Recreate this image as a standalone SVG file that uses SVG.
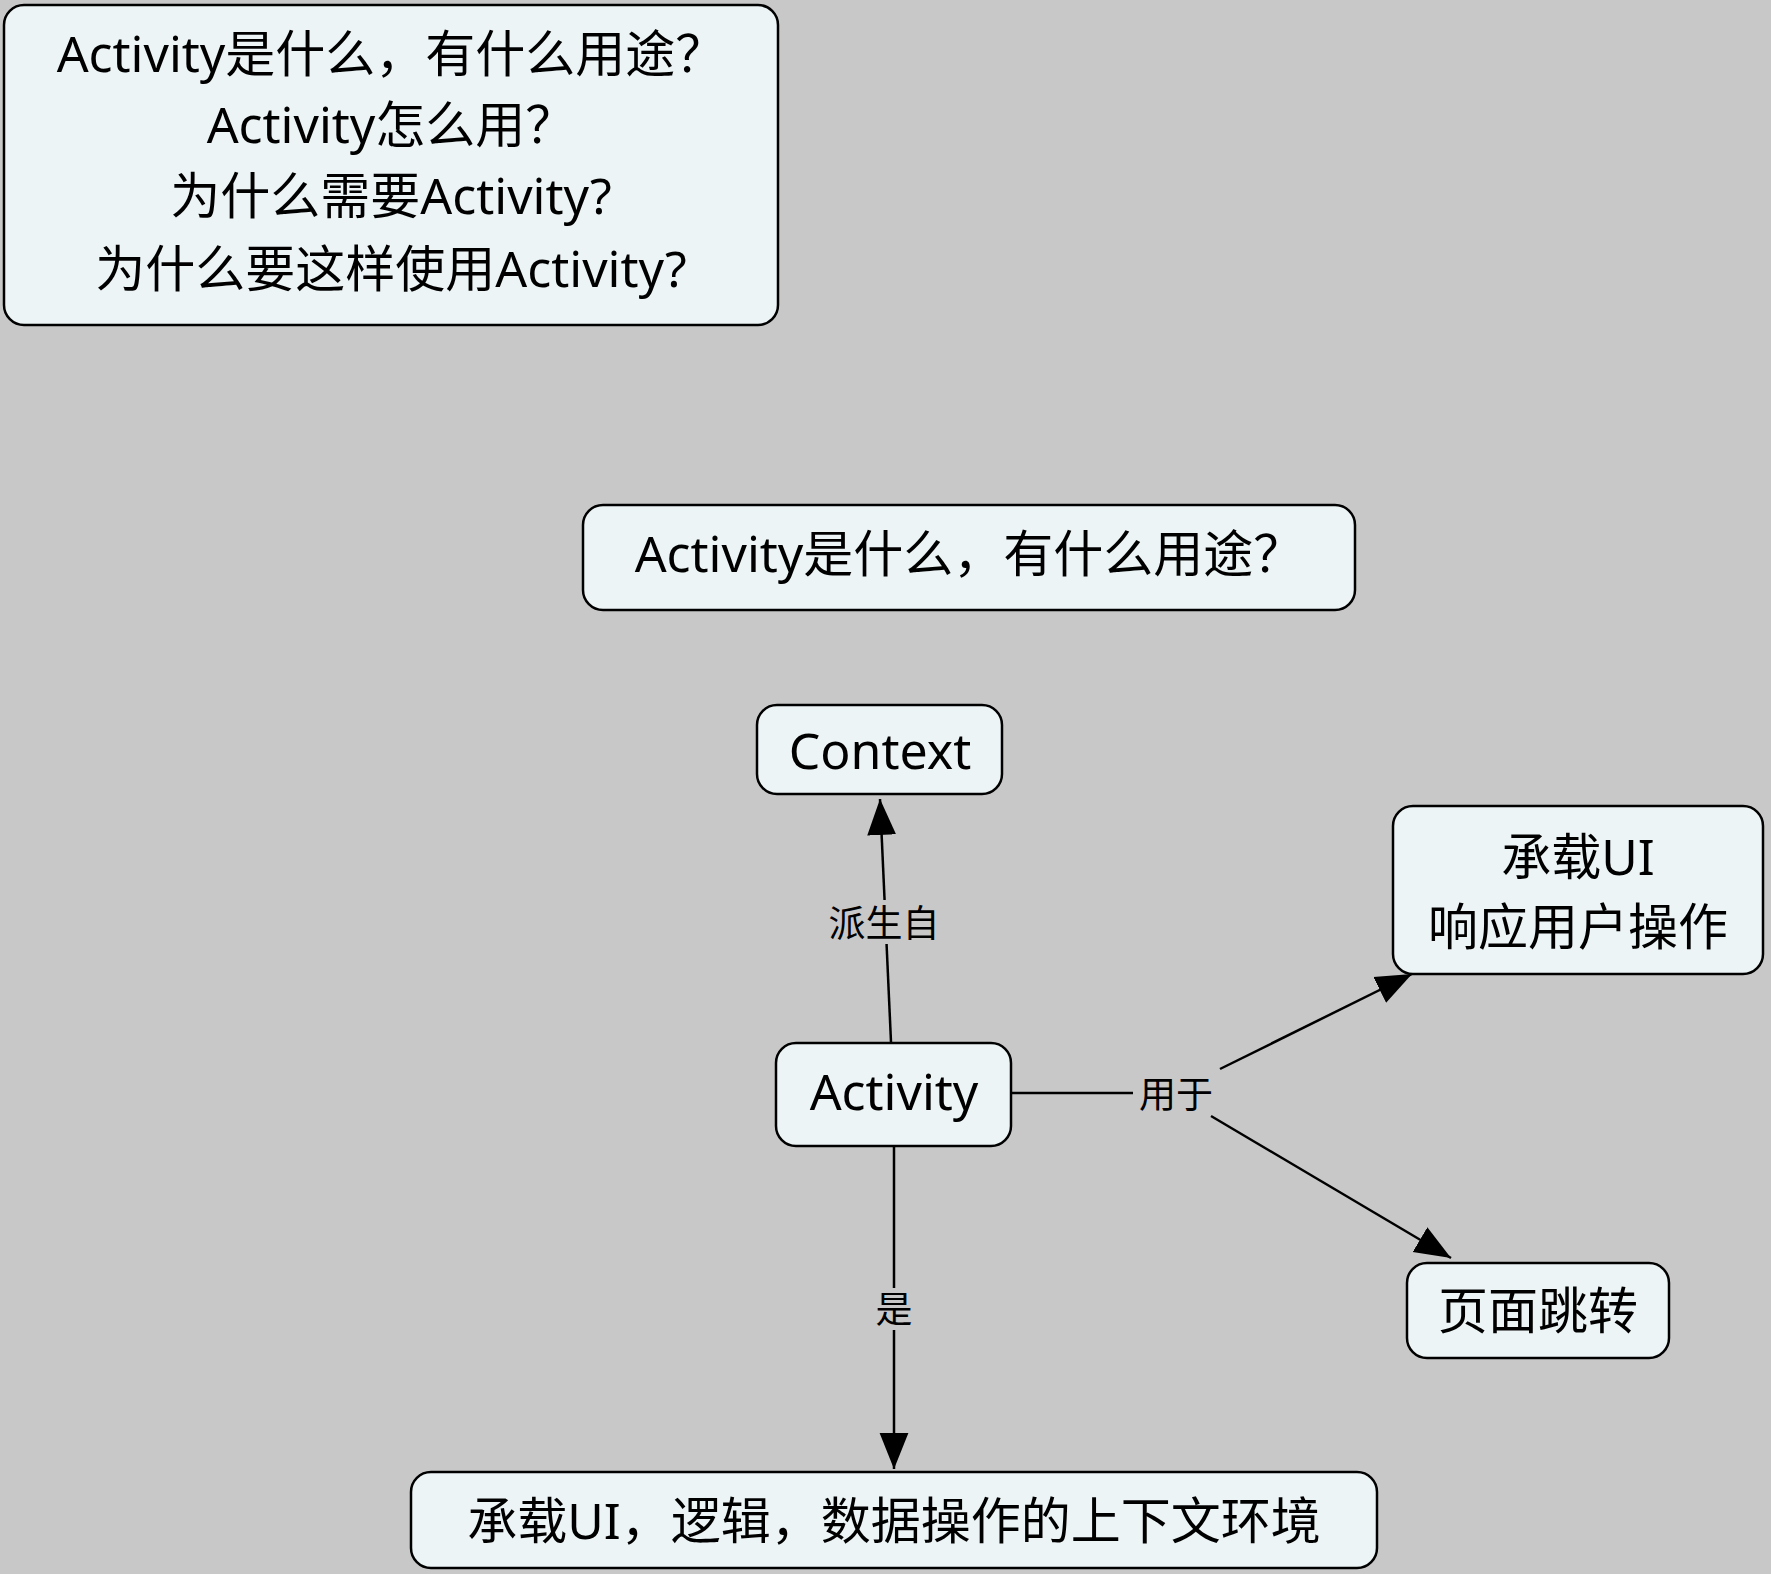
<svg xmlns="http://www.w3.org/2000/svg" width="1771" height="1574" viewBox="0 0 1771 1574">
<style>
.n{fill:#ecf4f6;stroke:#000;stroke-width:2.5}
.t{font-family:"Noto Sans","Noto Sans CJK SC",sans-serif;font-size:50px;fill:#000;text-anchor:middle;dominant-baseline:central}
.l{font-family:"Noto Sans","Noto Sans CJK SC",sans-serif;font-size:37px;fill:#000;text-anchor:middle;dominant-baseline:central}
.c{stroke:#000;stroke-width:2.5;fill:none}
</style>
<defs><marker id="a" viewBox="0 0 10 10" refX="10" refY="5" markerWidth="12" markerHeight="12" markerUnits="userSpaceOnUse" orient="auto"><path d="M0,0L10,5L0,10z" fill="#000"/></marker>
<marker id="b" viewBox="0 0 10 10" refX="10" refY="5" markerWidth="36" markerHeight="36" markerUnits="userSpaceOnUse" orient="auto"><path d="M0,1L10,5L0,9z" fill="#000"/></marker></defs>
<rect width="1771" height="1574" fill="#c8c8c8"/>
<g id="connectors">
<line class="c" x1="891" y1="1042" x2="880" y2="799" marker-end="url(#b)"/>
<rect x="820" y="900" width="128" height="44" fill="#c8c8c8"/>
<text class="l" x="884" y="922">派生自</text>
<line class="c" x1="1011" y1="1093" x2="1133" y2="1093"/>
<text class="l" x="1176" y="1093">用于</text>
<line class="c" x1="1220" y1="1069" x2="1412" y2="974" marker-end="url(#b)"/>
<line class="c" x1="1211" y1="1116" x2="1451" y2="1258" marker-end="url(#b)"/>
<line class="c" x1="894" y1="1146" x2="894" y2="1469" marker-end="url(#b)"/>
<rect x="872" y="1288" width="44" height="42" fill="#c8c8c8"/>
<text class="l" x="894" y="1308">是</text>
</g>
<g id="q"><rect class="n" x="4" y="5" width="774" height="320" rx="20"/>
<text class="t" x="391" y="53">Activity是什么，有什么用途？</text>
<text class="t" x="391" y="124">Activity怎么用？</text>
<text class="t" x="391" y="195">为什么需要Activity?</text>
<text class="t" x="391" y="268">为什么要这样使用Activity?</text></g>
<g id="title"><rect class="n" x="583" y="505" width="772" height="105" rx="20"/><text class="t" x="969" y="553">Activity是什么，有什么用途？</text></g>
<g id="context"><rect class="n" x="757" y="705" width="245" height="89" rx="20"/><text class="t" x="880" y="750">Context</text></g>
<g id="ui"><rect class="n" x="1393" y="806" width="370" height="168" rx="20"/><text class="t" x="1578" y="856">承载UI</text><text class="t" x="1578" y="926">响应用户操作</text></g>
<g id="activity"><rect class="n" x="776" y="1043" width="235" height="103" rx="20"/><text class="t" x="894" y="1091">Activity</text></g>
<g id="jump"><rect class="n" x="1407" y="1263" width="262" height="95" rx="20"/><text class="t" x="1538" y="1310">页面跳转</text></g>
<g id="env"><rect class="n" x="411" y="1472" width="966" height="96" rx="20"/><text class="t" x="894" y="1520">承载UI，逻辑，数据操作的上下文环境</text></g>
</svg>
